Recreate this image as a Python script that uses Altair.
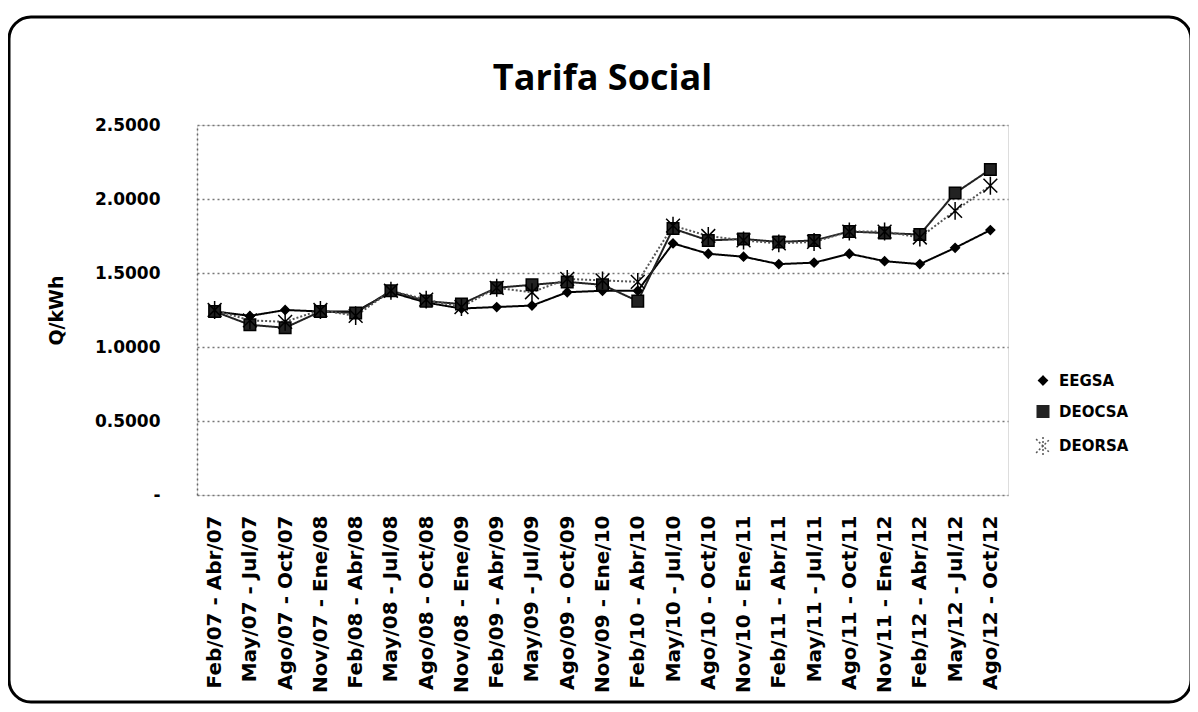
import altair as alt
import pandas as pd

categories = [
    "Feb/07 - Abr/07", "May/07 - Jul/07", "Ago/07 - Oct/07", "Nov/07 - Ene/08",
    "Feb/08 - Abr/08", "May/08 - Jul/08", "Ago/08 - Oct/08", "Nov/08 - Ene/09",
    "Feb/09 - Abr/09", "May/09 - Jul/09", "Ago/09 - Oct/09", "Nov/09 - Ene/10",
    "Feb/10 - Abr/10", "May/10 - Jul/10", "Ago/10 - Oct/10", "Nov/10 - Ene/11",
    "Feb/11 - Abr/11", "May/11 - Jul/11", "Ago/11 - Oct/11", "Nov/11 - Ene/12",
    "Feb/12 - Abr/12", "May/12 - Jul/12", "Ago/12 - Oct/12",
]
eegsa = [1.24, 1.21, 1.25, 1.24, 1.24, 1.37, 1.30, 1.26, 1.27, 1.28, 1.37, 1.38,
         1.38, 1.70, 1.63, 1.61, 1.56, 1.57, 1.63, 1.58, 1.56, 1.67, 1.79]
deocsa = [1.24, 1.15, 1.13, 1.24, 1.23, 1.38, 1.31, 1.29, 1.40, 1.42, 1.44, 1.42,
          1.31, 1.80, 1.72, 1.73, 1.71, 1.72, 1.78, 1.77, 1.76, 2.04, 2.20]
deorsa = [1.25, 1.18, 1.17, 1.25, 1.21, 1.38, 1.32, 1.27, 1.40, 1.37, 1.46, 1.45,
          1.44, 1.82, 1.75, 1.72, 1.70, 1.71, 1.78, 1.78, 1.74, 1.92, 2.09]
series_names = ["EEGSA", "DEOCSA", "DEORSA"]
y_ticks = [0, 0.5, 1.0, 1.5, 2.0, 2.5]

rows = []
for name, vals in zip(series_names, [eegsa, deocsa, deorsa]):
    for c, v in zip(categories, vals):
        rows.append({"periodo": c, "serie": name, "valor": v})
df = pd.DataFrame(rows)

FONT = "DejaVu Sans"
W, H = 811, 370

color_scale = alt.Scale(domain=series_names, range=["#000000", "#222222", "#555555"])
shape_scale = alt.Scale(domain=series_names,
                        range=["diamond", "square", "M-1,-1L1,1M-1,1L1,-1M0,-1.3L0,1.3"])
dash_scale = alt.Scale(domain=series_names, range=[[1, 0], [1, 0], [2, 2]])

legend = alt.Legend(
    title=None, orient="none", legendX=838, legendY=248, padding=0,
    labelFont=FONT, labelFontSize=15, labelFontWeight="bold", labelColor="#000",
    symbolSize=120, rowPadding=13, symbolStrokeWidth=1.5, labelOffset=8,
)

x_enc = alt.X(
    "periodo:N", sort=categories,
    scale=alt.Scale(type="point", padding=0.5),
    axis=alt.Axis(
        title=None, labelAngle=-90, labelFont=FONT, labelFontSize=20,
        labelFontWeight="bold", labelColor="#000", labelPadding=20,
        ticks=False, domain=False, grid=False, labelOverlap=False,
    ),
)
y_enc = alt.Y(
    "valor:Q",
    scale=alt.Scale(domain=[0, 2.5], nice=False),
    axis=alt.Axis(
        title="Q/kWh", titleFont=FONT, titleFontSize=19, titleFontWeight="bold",
        titleColor="#000", titlePadding=28,
        values=y_ticks,
        labelExpr="datum.value == 0 ? '-' : format(datum.value, '.4f')",
        labelFont=FONT, labelFontSize=17, labelFontWeight="bold", labelColor="#000",
        labelPadding=37, ticks=False,
        domain=True, domainColor="#666", domainDash=[2, 3], domainWidth=1.5,
        grid=True, gridColor="#777", gridDash=[2, 3], gridWidth=1.5,
    ),
)

lines = alt.Chart(df).mark_line(strokeWidth=2).encode(
    x=x_enc, y=y_enc,
    color=alt.Color("serie:N", scale=color_scale, legend=legend, sort=series_names),
    strokeDash=alt.StrokeDash("serie:N", scale=dash_scale, legend=legend, sort=series_names),
)
points = alt.Chart(df).mark_point(filled=True, stroke="#000", strokeWidth=1.5, opacity=1).encode(
    x=x_enc, y=y_enc,
    color=alt.Color("serie:N", scale=color_scale, legend=legend, sort=series_names),
    shape=alt.Shape("serie:N", scale=shape_scale, legend=legend, sort=series_names),
    size=alt.Size("serie:N", scale=alt.Scale(domain=series_names, range=[75, 190, 120]), legend=None),
)

frame = alt.Chart(pd.DataFrame({"k": [0]})).mark_rect(
    fill=None, stroke="#000", strokeWidth=3, cornerRadius=22, clip=False
).encode(
    x=alt.value(-188), x2=alt.value(994), y=alt.value(-108), y2=alt.value(577)
)

chart = alt.layer(frame, lines, points).properties(
    width=W, height=H,
    title=alt.TitleParams("Tarifa Social", font="Open Sans", fontSize=36, fontWeight="bold",
                          color="#000", anchor="middle", offset=-82),
    autosize=alt.AutoSizeParams(type="none"),
    padding={"left": 189, "top": 117, "right": 182, "bottom": 209},
).configure_view(stroke=None).configure(background="white")

chart.save("out.html", embed_options={"renderer": "svg", "actions": False})
